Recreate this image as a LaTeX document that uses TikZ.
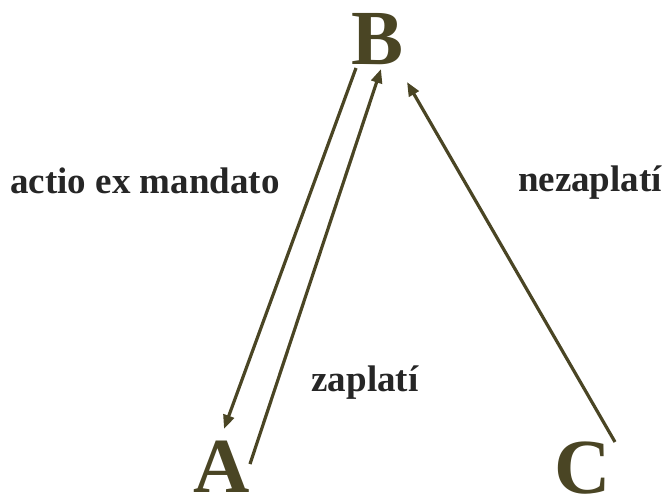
\documentclass[tikz,border=0pt]{standalone}
\usepackage{fontspec}
\setmainfont{Liberation Serif}
\usetikzlibrary{arrows.meta}
\definecolor{olive}{HTML}{4A4524}
\definecolor{ink}{HTML}{262626}
\tikzset{
	party/.style={text=olive, font=\fontsize{78}{82}\selectfont\bfseries, inner sep=0pt, text depth=0pt, anchor=base},
	claim/.style={text=ink, font=\fontsize{37}{40}\selectfont\bfseries, inner sep=0pt},
	flow/.style={draw=olive, line width=3.2pt, -{Triangle[length=14pt, width=11pt]}}
}
\begin{document}
\begin{tikzpicture}[x=1pt, y=-1pt]
		\useasboundingbox (0, 0) rectangle (672, 503);
		\node[party] (B) at (378, 64) {B};
		\node[party] (A) at (222, 492) {A};
		\node[party] (C) at (583, 493) {C};
		\node[claim] (mandato) at (145, 181) {actio ex mandato};
		\node[claim] (nezaplati) at (590, 183) {nezaplatí};
		\node[claim] (zaplati) at (365, 383) {zaplatí};
		\coordinate (BtoA) at (356, 68);
		\coordinate (AtB) at (224, 429);
		\coordinate (AtoB) at (250, 464);
		\coordinate (BfA) at (381, 69);
		\coordinate (CtoB) at (615, 442);
		\coordinate (BfC) at (407, 82);
		\draw[flow] (BtoA) -- (AtB);
		\draw[flow] (AtoB) -- (BfA);
		\draw[flow] (CtoB) -- (BfC);
	\end{tikzpicture}
\end{document}
